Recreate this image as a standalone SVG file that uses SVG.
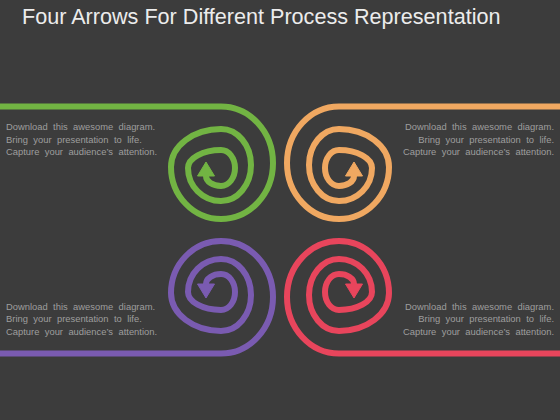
<svg xmlns="http://www.w3.org/2000/svg" xmlns:xlink="http://www.w3.org/1999/xlink" width="560" height="420" viewBox="0 0 560 420">
<style>
.spiral{fill:none;stroke-width:6;stroke-linecap:butt;stroke-linejoin:round}
.title{font-family:"Liberation Sans",Arial,sans-serif;font-size:21.6px;fill:#ececec}
.body{font-family:"Liberation Sans",Arial,sans-serif;font-size:9.4px;fill:#9e9e9e;word-spacing:2.8px}
.end{text-anchor:end}
</style>
<defs>
<g id="spiral">
<path class="spiral" d="M0 106.5 H221 A52 56.5 0 0 1 273 163 A52 56 0 0 1 221 219 A50 52 0 0 1 171 167 A50 38 0 0 1 221 129 A30 36 0 0 1 251 165 A30 36 0 0 1 221 201 A33 33 0 0 1 188 168 A33 18 0 0 1 221 150 A14 18 0 0 1 235 168 A14 18 0 0 1 221 186 A15 10 0 0 1 206 176"/>
<polygon points="197.5,176 214.5,176 206,162"/>
</g>
</defs>
<rect x="0" y="0" width="560" height="420" fill="#3c3c3c"/>
<text class="title" x="22" y="24">Four Arrows For Different Process Representation</text>
<g id="connectors"></g>
<g id="green" stroke="#72b443" fill="#72b443">
<use xlink:href="#spiral" href="#spiral"/>
</g>
<g id="orange" stroke="#f0a861" fill="#f0a861">
<use xlink:href="#spiral" href="#spiral" transform="translate(560,0) scale(-1,1)"/>
</g>
<g id="purple" stroke="#7a5bb1" fill="#7a5bb1">
<use xlink:href="#spiral" href="#spiral" transform="translate(0,460) scale(1,-1)"/>
</g>
<g id="red" stroke="#e8455c" fill="#e8455c">
<use xlink:href="#spiral" href="#spiral" transform="translate(560,460) scale(-1,-1)"/>
</g>
<g id="text-top-left">
<text class="body" x="6" y="130">Download this awesome diagram.</text>
<text class="body" x="6" y="142.5">Bring your presentation to life.</text>
<text class="body" x="6" y="155">Capture your audience’s attention.</text>
</g>
<g id="text-top-right">
<text class="body end" x="554" y="130">Download this awesome diagram.</text>
<text class="body end" x="554" y="142.5">Bring your presentation to life.</text>
<text class="body end" x="554" y="155">Capture your audience’s attention.</text>
</g>
<g id="text-bottom-left">
<text class="body" x="6" y="309.5">Download this awesome diagram.</text>
<text class="body" x="6" y="322">Bring your presentation to life.</text>
<text class="body" x="6" y="334.5">Capture your audience’s attention.</text>
</g>
<g id="text-bottom-right">
<text class="body end" x="554" y="309.5">Download this awesome diagram.</text>
<text class="body end" x="554" y="322">Bring your presentation to life.</text>
<text class="body end" x="554" y="334.5">Capture your audience’s attention.</text>
</g>
</svg>
